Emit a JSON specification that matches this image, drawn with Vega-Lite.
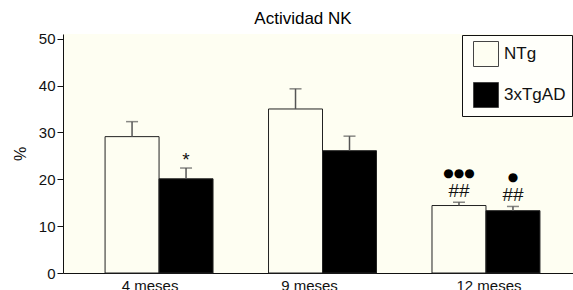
{
  "$schema": "https://vega.github.io/schema/vega-lite/v6.json",
  "width": 510,
  "height": 239,
  "autosize": {"type": "none"},
  "padding": {"left": 63, "top": 34, "right": 0, "bottom": 17},
  "background": "white",
  "title": {"text": "Actividad NK", "fontSize": 17, "font": "Liberation Sans", "fontWeight": "normal", "anchor": "middle", "dx": -15, "offset": 4, "color": "black"},
  "config": {"view": {"fill": "#fefef2", "stroke": null}, "font": "Liberation Sans"},
  "datasets": {
    "bars": [
      {"age": "4 meses", "genotype": "NTg", "value": 29.1, "upper": 32.3},
      {"age": "4 meses", "genotype": "3xTgAD", "value": 20.1, "upper": 22.4},
      {"age": "9 meses", "genotype": "NTg", "value": 35.0, "upper": 39.3},
      {"age": "9 meses", "genotype": "3xTgAD", "value": 26.1, "upper": 29.2},
      {"age": "12 meses", "genotype": "NTg", "value": 14.4, "upper": 15.1},
      {"age": "12 meses", "genotype": "3xTgAD", "value": 13.3, "upper": 14.2}
    ],
    "signs": [
      {"age": "4 meses", "genotype": "3xTgAD", "label": "*", "pos": 22.8},
      {"age": "12 meses", "genotype": "NTg", "label": "##", "pos": 16.2},
      {"age": "12 meses", "genotype": "3xTgAD", "label": "##", "pos": 15.3}
    ],
    "dots": [
      {"age": "12 meses", "genotype": "NTg", "label": "●●●", "pos": 21.4},
      {"age": "12 meses", "genotype": "3xTgAD", "label": "●", "pos": 20.5}
    ]
  },
  "encoding": {
    "x": {
      "field": "age", "type": "nominal", "sort": ["4 meses", "9 meses", "12 meses"],
      "scale": {"paddingInner": 0, "paddingOuter": 0.06, "align": 0.73},
      "axis": {
        "title": null, "ticks": false, "domainColor": "#111", "domainWidth": 1,
        "labelFontSize": 15, "labelColor": "#111", "labelPadding": 5, "labelAngle": 0,
        "labelOffset": {"condition": [{"test": "datum.value == '4 meses'", "value": -9}, {"test": "datum.value == '9 meses'", "value": -13}], "value": 3}
      }
    },
    "xOffset": {
      "field": "genotype", "type": "nominal", "sort": ["NTg", "3xTgAD"],
      "scale": {"paddingInner": 0, "paddingOuter": 0.514}
    }
  },
  "layer": [
    {
      "data": {"name": "bars"},
      "mark": {"type": "bar", "stroke": "#222", "strokeWidth": 1},
      "encoding": {
        "y": {
          "field": "value", "type": "quantitative",
          "scale": {"domain": [0, 51], "nice": false},
          "axis": {
            "values": [0, 10, 20, 30, 40, 50], "title": "%", "titleFontSize": 16, "titleFontWeight": "normal",
            "titleColor": "#111", "titlePadding": 10, "labelFontSize": 15, "labelColor": "#111",
            "tickSize": 6, "labelPadding": 2, "grid": false, "domainColor": "#111", "tickColor": "#111"
          }
        },
        "fill": {
          "field": "genotype", "type": "nominal",
          "scale": {"domain": ["NTg", "3xTgAD"], "range": ["#fefef2", "#000000"]},
          "legend": {
            "title": null, "orient": "none", "legendX": 399, "legendY": 1,
            "padding": 6, "symbolOffset": 5, "symbolType": "square", "symbolSize": 625,
            "symbolStrokeColor": "#444", "symbolStrokeWidth": 1, "rowPadding": 11,
            "labelFontSize": 17, "labelOffset": 5, "labelColor": "#111",
            "strokeColor": "#111", "fillColor": "#fffffa"
          }
        }
      }
    },
    {
      "data": {"name": "bars"},
      "mark": {"type": "rule", "color": "#555", "strokeWidth": 1.5},
      "encoding": {
        "y": {"field": "value", "type": "quantitative"},
        "y2": {"field": "upper"}
      }
    },
    {
      "data": {"name": "bars"},
      "mark": {"type": "tick", "color": "#555", "size": 12, "thickness": 1.5},
      "encoding": {
        "y": {"field": "upper", "type": "quantitative"}
      }
    },
    {
      "data": {"name": "signs"},
      "mark": {"type": "text", "fontSize": 19, "color": "#111", "baseline": "alphabetic", "align": "center"},
      "encoding": {
        "y": {"field": "pos", "type": "quantitative"},
        "text": {"field": "label"}
      }
    },
    {
      "data": {"name": "dots"},
      "mark": {"type": "text", "fontSize": 12, "font": "DejaVu Sans", "color": "#000", "baseline": "middle", "align": "center"},
      "encoding": {
        "y": {"field": "pos", "type": "quantitative"},
        "text": {"field": "label"}
      }
    }
  ]
}
